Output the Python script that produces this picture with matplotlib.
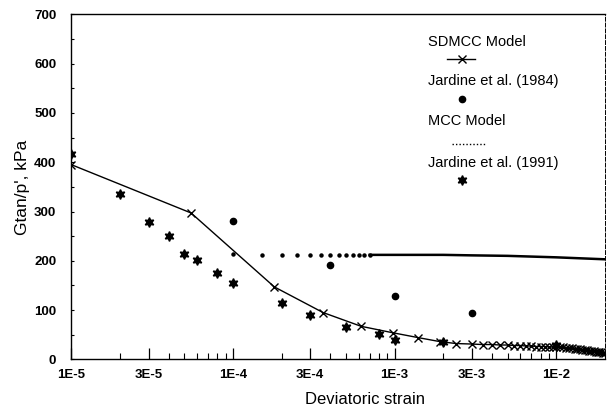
import matplotlib

matplotlib.use("Agg")

import matplotlib.pyplot as plt
from matplotlib.ticker import FixedLocator, FixedFormatter, LogLocator, MultipleLocator, NullFormatter

plt.rcParams["font.family"] = ["Liberation Sans", "DejaVu Sans"]

# SDMCC model (line + x markers)
sdmcc_strain = [1e-5, 5.5e-5, 1.8e-4, 3.6e-4, 6.2e-4, 9.7e-4, 1.4e-3, 1.9e-3, 2.4e-3,
                3.0e-3, 3.5e-3, 4.0e-3, 4.5e-3, 5.0e-3, 5.5e-3, 6.0e-3, 6.5e-3, 7.0e-3,
                7.5e-3, 8.0e-3, 8.5e-3, 9.0e-3, 9.5e-3, 1.0e-2, 1.05e-2, 1.1e-2, 1.15e-2,
                1.2e-2, 1.25e-2, 1.3e-2, 1.35e-2, 1.4e-2, 1.45e-2, 1.5e-2, 1.55e-2,
                1.6e-2, 1.65e-2, 1.7e-2, 1.75e-2, 1.8e-2, 1.85e-2, 1.9e-2, 1.95e-2, 2.0e-2]
sdmcc_g = [395, 297, 147, 95, 67, 54, 44, 36, 32,
           31, 30, 30, 29, 29, 28, 28, 27, 27,
           26, 26, 26, 25, 25, 25, 24, 24, 23,
           22, 22, 21, 20, 20, 19, 18, 18,
           17, 17, 16, 15, 15, 14, 14, 13, 13]

# Jardine et al. (1984) - round dots
j84_strain = [1e-4, 4e-4, 1e-3, 3e-3]
j84_g = [280, 191, 129, 94]

# MCC model - dots at low strain, merging into a line
mcc_dot_strain = [1.0e-4, 1.5e-4, 2.0e-4, 2.5e-4, 3.0e-4, 3.5e-4, 4.0e-4, 4.5e-4,
                  5.0e-4, 5.5e-4, 6.0e-4, 6.5e-4, 7.0e-4]
mcc_dot_g = [213, 212, 212, 212, 212, 212, 212, 212, 212, 212, 212, 212, 212]
mcc_line_strain = [7.0e-4, 1.0e-3, 2.0e-3, 3.0e-3, 5.0e-3, 1.0e-2, 2.0e-2]
mcc_line_g = [212, 212, 212, 211, 210, 207, 203]

# Jardine et al. (1991) - filled stars
j91_strain = [1e-5, 2e-5, 3e-5, 4e-5, 5e-5, 6e-5, 8e-5, 1e-4, 2e-4, 3e-4,
              5e-4, 8e-4, 1e-3, 2e-3, 1e-2]
j91_g = [416, 335, 279, 250, 214, 201, 176, 155, 114, 90,
         65, 52, 40, 35, 30]

x_ticks = [1e-5, 3e-5, 1e-4, 3e-4, 1e-3, 3e-3, 1e-2]
x_tick_labels = ["1E-5", "3E-5", "1E-4", "3E-4", "1E-3", "3E-3", "1E-2"]

star = (6, 1, 0)

fig = plt.figure(figsize=(6.16, 4.13), dpi=100)
ax = fig.add_axes([0.116, 0.130, 0.866, 0.835])

ax.plot(sdmcc_strain, sdmcc_g, color="black", lw=1.0, marker="x", ms=5.5, mew=1.0)
ax.plot(j84_strain, j84_g, ls="none", marker="o", color="black", ms=4.5)
ax.plot(mcc_dot_strain, mcc_dot_g, ls="none", marker="o", color="black", ms=2.2)
ax.plot(mcc_line_strain, mcc_line_g, color="black", lw=1.8)
ax.plot(j91_strain, j91_g, ls="none", marker=star, color="black", ms=7)

ax.set_xscale("log")
ax.set_xlim(1e-5, 2e-2)
ax.set_ylim(0, 700)

ax.xaxis.set_major_locator(FixedLocator(x_ticks))
ax.xaxis.set_major_formatter(FixedFormatter(x_tick_labels))
ax.xaxis.set_minor_locator(LogLocator(base=10, subs=(2, 4, 5, 6, 7, 8, 9)))
ax.xaxis.set_minor_formatter(NullFormatter())
ax.yaxis.set_major_locator(MultipleLocator(100))
ax.yaxis.set_minor_locator(MultipleLocator(50))

ax.tick_params(axis="x", which="major", direction="in", length=8, width=0.9,
               pad=7, labelsize=9.5)
ax.tick_params(axis="x", which="minor", direction="in", length=4.5, width=0.8)
ax.tick_params(axis="y", which="both", direction="in", length=2.5, width=0.8,
               pad=11, labelsize=9.5)
for lab in ax.get_xticklabels() + ax.get_yticklabels():
    lab.set_fontweight("bold")

for side in ["left", "bottom", "top"]:
    ax.spines[side].set_linewidth(1.0)
ax.spines["right"].set_linewidth(0.7)
ax.spines["right"].set_linestyle((0, (4, 2)))

ax.set_xlabel("Deviatoric strain", fontsize=12, x=0.55, labelpad=8)
ax.set_ylabel("Gtan/p', kPa", fontsize=12.5, labelpad=3)

# legend drawn by hand: label with its symbol under it
tr = ax.transAxes
ax.text(0.668, 0.920, "SDMCC Model", transform=tr, fontsize=10.5, va="center")
ax.plot([0.704, 0.756], [0.870, 0.870], transform=tr, color="black", lw=1.0)
ax.plot([0.732], [0.870], transform=tr, color="black", marker="x", ms=5.5, mew=1.0)
ax.text(0.668, 0.807, "Jardine et al. (1984)", transform=tr, fontsize=10.5, va="center")
ax.plot([0.732], [0.754], transform=tr, color="black", marker="o", ms=4.5)
ax.text(0.668, 0.691, "MCC Model", transform=tr, fontsize=10.5, va="center")
ax.plot([0.713, 0.775], [0.624, 0.624], transform=tr, color="black", lw=1.0, ls=(0, (1, 1.5)))
ax.text(0.668, 0.569, "Jardine et al. (1991)", transform=tr, fontsize=10.5, va="center")
ax.plot([0.732], [0.520], transform=tr, color="black", marker=star, ms=7)

fig.savefig("out.png", dpi=100)
